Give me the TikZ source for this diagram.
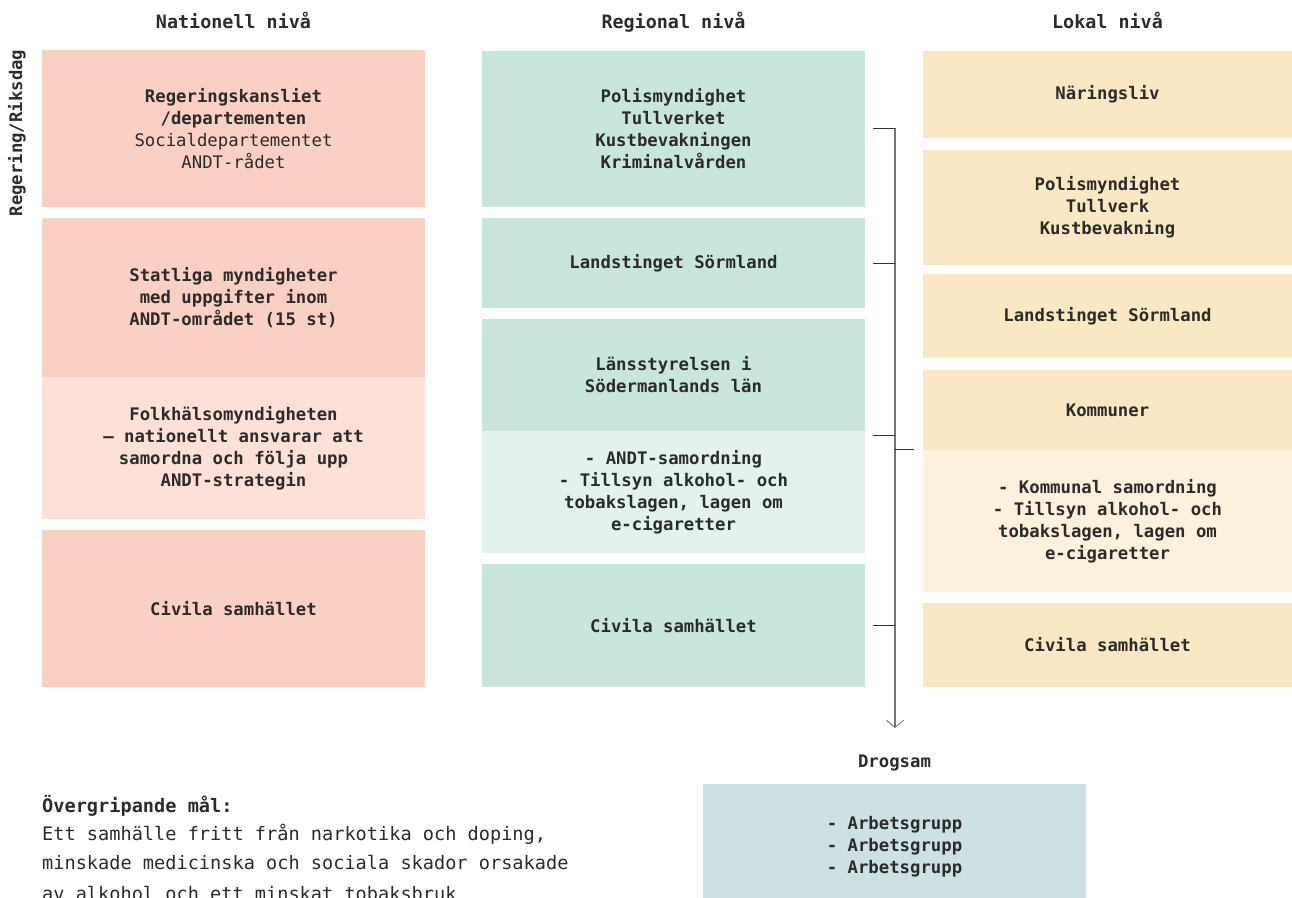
\documentclass[tikz,border=0pt]{standalone}
\usepackage{fontspec}
\setmainfont{DejaVu Sans Mono}
\usepackage{tikz}
\usetikzlibrary{arrows.meta}
\definecolor{natc}{HTML}{FBD0C4}
\definecolor{natl}{HTML}{FDE1D8}
\definecolor{regc}{HTML}{C9E6DC}
\definecolor{regl}{HTML}{E3F2EC}
\definecolor{lokc}{HTML}{F9E8C3}
\definecolor{lokl}{HTML}{FCF1DC}
\definecolor{drogc}{HTML}{CDE0E3}
\definecolor{inkc}{HTML}{2B2B2B}
\tikzstyle{box} = [rectangle, inner sep=0pt, align=center, text=inkc,
  font=\bfseries\fontsize{17.3}{22}\selectfont]
\tikzstyle{nat} = [box, fill=natc, minimum width=383pt]
\tikzstyle{reg} = [box, fill=regc, minimum width=383pt]
\tikzstyle{lok} = [box, fill=lokc, minimum width=369pt]
\tikzstyle{head} = [text=inkc, anchor=base, font=\bfseries\fontsize{18.4}{22}\selectfont]
\tikzstyle{tick} = [draw=black!80, line width=0.9pt]

\begin{document}
\begin{tikzpicture}[x=1pt, y=-1pt]
	\useasboundingbox (0,0) rectangle (1292,897);
	% headers
	\node[head] (hnat) at (233.5,28) {Nationell nivå};
	\node[head] (hreg) at (673.5,28) {Regional nivå};
	\node[head] (hlok) at (1107.5,28) {Lokal nivå};
	\node[text=inkc, rotate=90, font=\bfseries\fontsize{17.3}{22}\selectfont] (side) at (17,133) {Regering/Riksdag};
	% nationell
	\node[nat, minimum height=157pt] (nat1) at (233.5,128.5)
		{Regeringskansliet\\/departementen\\{\mdseries Socialdepartementet}\\{\mdseries ANDT-rådet}};
	\node[nat, minimum height=159pt] (nat2) at (233.5,297.5)
		{Statliga myndigheter\\med uppgifter inom\\ANDT-området (15 st)};
	\node[nat, fill=natl, minimum height=142pt] (nat3) at (233.5,448)
		{Folkhälsomyndigheten\\– nationellt ansvarar att\\samordna och följa upp\\ANDT-strategin};
	\node[nat, minimum height=157pt] (nat4) at (233.5,608.5) {Civila samhället};
	% regional
	\node[reg, minimum height=156pt] (reg1) at (673.5,129)
		{Polismyndighet\\Tullverket\\Kustbevakningen\\Kriminalvården};
	\node[reg, minimum height=90pt] (reg2) at (673.5,263) {Landstinget Sörmland};
	\node[reg, minimum height=112pt] (reg3) at (673.5,375)
		{Länsstyrelsen i\\Södermanlands län};
	\node[reg, fill=regl, minimum height=122pt] (reg4) at (673.5,492)
		{- ANDT-samordning\\- Tillsyn alkohol- och\\tobakslagen, lagen om\\e-cigaretter};
	\node[reg, minimum height=123pt] (reg5) at (673.5,625.5) {Civila samhället};
	% lokal
	\node[lok, minimum height=87pt] (lok1) at (1107.5,94.5) {Näringsliv};
	\node[lok, minimum height=115pt] (lok2) at (1107.5,207.5)
		{Polismyndighet\\Tullverk\\Kustbevakning};
	\node[lok, minimum height=84pt] (lok3) at (1107.5,316) {Landstinget Sörmland};
	\node[lok, minimum height=80pt] (lok4) at (1107.5,410) {Kommuner};
	\node[lok, fill=lokl, minimum height=142pt] (lok5) at (1107.5,521)
		{- Kommunal samordning\\- Tillsyn alkohol- och\\tobakslagen, lagen om\\e-cigaretter};
	\node[lok, minimum height=84pt] (lok6) at (1107.5,645) {Civila samhället};
	% drogsam
	\node[head, font=\bfseries\fontsize{17.3}{22}\selectfont] (droglbl) at (894.5,767) {Drogsam};
	\node[box, fill=drogc, minimum width=383pt, minimum height=126pt] (drog) at (894.5,847)
		{- Arbetsgrupp\\- Arbetsgrupp\\- Arbetsgrupp};
	% connectors
	\coordinate (spine) at (895,128);
	\coordinate (arrowend) at (895,728);
	\draw[draw=black!55, line width=1.3pt, -{Straight Barb[length=7pt, width=17pt, line width=0.9pt]}]
		(spine) -- (arrowend);
	\draw[tick] ([xshift=8pt]reg1.east |- spine) -- (spine);
	\draw[tick] ([xshift=8pt]reg2.east) -- (reg2.east -| spine);
	\draw[tick] ([xshift=8pt,yshift=-5pt]reg4.north east) -- ([yshift=-5pt]reg4.north east -| spine);
	\draw[tick] ([xshift=8pt]reg5.east) -- (reg5.east -| spine);
	\draw[tick] (lok5.north west -| spine) -- ([xshift=-9pt]lok5.north west);
	% overgripande mal
	\node[anchor=base west, inner sep=0pt, text=inkc, font=\bfseries\fontsize{18.6}{25}\selectfont] (malhead) at (42,812) {Övergripande mål:};
	\node[anchor=base west, inner sep=0pt, text=inkc, font=\fontsize{18.6}{25}\selectfont] (mal1) at (42,840) {Ett samhälle fritt från narkotika och doping,};
	\node[anchor=base west, inner sep=0pt, text=inkc, font=\fontsize{18.6}{25}\selectfont] (mal2) at (42,869) {minskade medicinska och sociala skador orsakade};
	\node[anchor=base west, inner sep=0pt, text=inkc, font=\fontsize{18.6}{25}\selectfont] (mal3) at (42,900) {av alkohol och ett minskat tobaksbruk};
\end{tikzpicture}
\end{document}
